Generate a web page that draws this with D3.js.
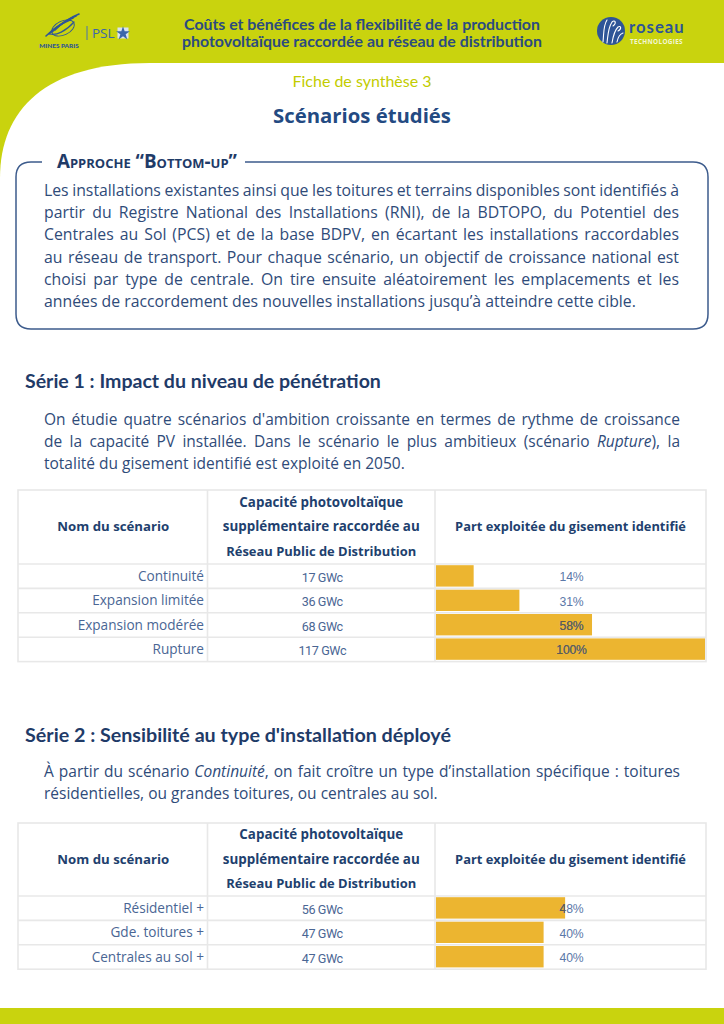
<!DOCTYPE html>
<html><head><meta charset="utf-8">
<script src="https://cdn.jsdelivr.net/npm/d3@7"></script>
<style>
html,body{margin:0;padding:0;background:#fff;}
svg{display:block;}
</style></head><body>
<svg id="c" width="724" height="1024"></svg>
<script>
// ---------- DATA ----------
const headerTitle = ["Coûts et bénéfices de la flexibilité de la production", "photovoltaïque raccordée au réseau de distribution"];
const ficheLabel = "Fiche de synthèse 3";
const pageTitle = "Scénarios étudiés";
const boxLegend = "Approche “Bottom-up”";
const boxLines = [
  "Les installations existantes ainsi que les toitures et terrains disponibles sont identifiés à",
  "partir du Registre National des Installations (RNI), de la BDTOPO, du Potentiel des",
  "Centrales au Sol (PCS) et de la base BDPV, en écartant les installations raccordables",
  "au réseau de transport. Pour chaque scénario, un objectif de croissance national est",
  "choisi par type de centrale. On tire ensuite aléatoirement les emplacements et les",
  "années de raccordement des nouvelles installations jusqu’à atteindre cette cible."
];
const serie1Title = "Série 1 : Impact du niveau de pénétration";
const serie1Lines = [
  "On étudie quatre scénarios d'ambition croissante en termes de rythme de croissance",
  "de la capacité PV installée. Dans le scénario le plus ambitieux (scénario _Rupture_), la",
  "totalité du gisement identifié est exploité en 2050."
];
const serie2Title = "Série 2 : Sensibilité au type d'installation déployé";
const serie2Lines = [
  "À partir du scénario _Continuité_, on fait croître un type d’installation spécifique : toitures",
  "résidentielles, ou grandes toitures, ou centrales au sol."
];
const columnHeaders = [
  ["Nom du scénario"],
  ["Capacité photovoltaïque", "supplémentaire raccordée au", "Réseau Public de Distribution"],
  ["Part exploitée du gisement identifié"]
];
const scenarios1 = ["Continuité", "Expansion limitée", "Expansion modérée", "Rupture"];
const capacity1 = [17, 36, 68, 117];
const share1 = [14, 31, 58, 100];
const scenarios2 = ["Résidentiel +", "Gde. toitures +", "Centrales au sol +"];
const capacity2 = [56, 47, 47];
const share2 = [48, 40, 40];
const shareDomain = [0, 100];
const capacityUnit = "GWc";

// ---------- STYLE ----------
const LIME = "#c9d30e";
const NAVY = "#1f3b68";
const TXT = "#2f4b79";
const ROWTXT = "#4a6694";
const GOLD = "#ecb530";
const GRID = "#e8e8e8";
const BODYF = "'Open Sans', 'Noto Sans', sans-serif";
const HEADF = "Lato, 'Open Sans', sans-serif";

const svg = d3.select("#c");

// background
svg.append("rect").attr("width", 724).attr("height", 1024).attr("fill", LIME);
svg.append("path")
  .attr("d", "M0,178 C0,110 45,63 150,63 L724,63 L724,1008 L0,1008 Z")
  .attr("fill", "#fff");

function fit(sel, target) {
  const fs = parseFloat(sel.attr("font-size"));
  const len = sel.node().getComputedTextLength();
  sel.attr("font-size", (fs * target / len).toFixed(2));
  return sel;
}

// ---------- HEADER ----------
const hdr = svg.append("g");
headerTitle.forEach((t, i) => {
  const s = hdr.append("text").attr("x", 362).attr("y", 23 + i * 17.5)
    .attr("text-anchor", "middle").attr("dominant-baseline", "central")
    .attr("font-family", HEADF).attr("font-weight", 700).attr("font-size", 14.5)
    .attr("fill", "#2b4b80").text(t);
  fit(s, i === 0 ? 356 : 360);
});

// Mines Paris logo
const ml = svg.append("g").attr("fill", "none").attr("stroke", "#2e5597").attr("stroke-width", 1.6).attr("stroke-linecap", "round");
[[0,0],[3,-2],[6,-4],[9,-6]].forEach(([dx,dy]) => {
  ml.append("path").attr("d", `M${46+dx},${36+dy} C${52+dx},${30+dy} ${60+dx},${24+dy} ${70+dx},${20+dy}`);
});
ml.append("path").attr("d", "M50,34 C56,36 66,31 74,22").attr("stroke-width", 1.2);
ml.append("ellipse").attr("cx", 63).attr("cy", 28).attr("rx", 12).attr("ry", 7).attr("transform", "rotate(-25,63,28)").attr("stroke-width", 0.9);
svg.append("text").attr("x", 59).attr("y", 45).attr("text-anchor", "middle").attr("dominant-baseline", "central")
  .attr("font-family", HEADF).attr("font-weight", 900).attr("font-size", 6.4).attr("fill", "#2e5597").text("MINES PARIS");
svg.append("line").attr("x1", 87).attr("x2", 87).attr("y1", 26).attr("y2", 40).attr("stroke", "#4a72ad").attr("stroke-width", 1);
svg.append("text").attr("x", 92).attr("y", 33).attr("dominant-baseline", "central")
  .attr("font-family", "'Open Sans', sans-serif").attr("font-size", 13.5).attr("fill", "#3b67aa").text("PSL");
svg.append("rect").attr("x", 117.5).attr("y", 27.5).attr("width", 11).attr("height", 11).attr("fill", "#d9e4f2");
svg.append("path").attr("d", d3.symbol(d3.symbolStar, 60)()).attr("transform", "translate(123,33.5)").attr("fill", "#3b67aa");

// Roseau logo
svg.append("circle").attr("cx", 611).attr("cy", 31).attr("r", 14).attr("fill", "#2e5597");
const rl = svg.append("g").attr("fill", "none").attr("stroke", "#fff").attr("stroke-width", 1.1).attr("stroke-linecap", "round");
rl.append("path").attr("d", "M603,42 C604,34 603,26 607,20");
rl.append("path").attr("d", "M607,43 C608,35 608,28 612,22 C615,19 617,23 613,26");
rl.append("path").attr("d", "M612,43 C613,37 614,31 618,27 C621,25 622,29 618,31");
rl.append("path").attr("d", "M617,42 C618,37 620,34 623,33");
fit(svg.append("text").attr("x", 629).attr("y", 32.5)
  .attr("font-family", "Lato, sans-serif").attr("font-weight", 700).attr("font-size", 16).attr("letter-spacing", 1)
  .attr("fill", "#2e5597").text("roseau"), 56);
fit(svg.append("text").attr("x", 630).attr("y", 43.5)
  .attr("font-family", "'Open Sans', sans-serif").attr("font-weight", 700).attr("font-size", 5).attr("letter-spacing", 0.3)
  .attr("fill", "#f3f6d6").text("TECHNOLOGIES"), 54);

// ---------- TITLES ----------
fit(svg.append("text").attr("x", 362).attr("y", 80).attr("text-anchor", "middle").attr("dominant-baseline", "central")
  .attr("font-family", HEADF).attr("font-size", 12.5).attr("fill", "#c2cc00").text(ficheLabel), 139);
fit(svg.append("text").attr("x", 362).attr("y", 115).attr("text-anchor", "middle").attr("dominant-baseline", "central")
  .attr("font-family", BODYF).attr("font-weight", 700).attr("font-size", 19).attr("fill", "#234a82").text(pageTitle), 178);

// ---------- PARAGRAPH HELPER ----------
function paragraph(lines, x0, x1, y0, lh, lastWidth, color) {
  const g = svg.append("g").attr("fill", color).attr("font-family", BODYF);
  const probe = g.append("text").attr("font-size", 14).text(lines[lines.length - 1].replace(/_/g, ""));
  const fs = 14 * lastWidth / probe.node().getComputedTextLength();
  probe.remove();
  const sp = g.append("text").attr("font-size", fs).text("a a");
  const sp2 = g.append("text").attr("font-size", fs).text("aa");
  const space = sp.node().getComputedTextLength() - sp2.node().getComputedTextLength();
  sp.remove(); sp2.remove();
  lines.forEach((line, i) => {
    const y = y0 + i * lh;
    const words = line.split(" ");
    let italic = false;
    const nodes = words.map(w => {
      const t = g.append("text").attr("y", y).attr("font-size", fs).attr("dominant-baseline", "central");
      const parts = w.split("_");
      parts.forEach((p, k) => {
        if (k > 0) italic = !italic;
        if (p.length) t.append("tspan").attr("font-style", italic ? "italic" : "normal").text(p);
      });
      return t;
    });
    const widths = nodes.map(n => n.node().getComputedTextLength());
    const total = d3.sum(widths);
    const last = i === lines.length - 1;
    const gap = last ? space : (x1 - x0 - total) / (nodes.length - 1);
    let x = x0;
    nodes.forEach((n, k) => { n.attr("x", x); x += widths[k] + gap; });
  });
}

// ---------- BOX ----------
svg.append("path")
  .attr("d", "M42,162 L31,162 Q16,162 16,177 L16,314 Q16,329 31,329 L693,329 Q708,329 708,314 L708,177 Q708,162 693,162 L245,162")
  .attr("fill", "none").attr("stroke", "#3c5b8c").attr("stroke-width", 1.5);
fit(svg.append("text").attr("x", 57).attr("y", 160.5).attr("dominant-baseline", "central")
  .attr("font-family", BODYF).attr("font-weight", 700).attr("font-size", 14)
  .style("font-variant", "small-caps").attr("fill", NAVY).text(boxLegend), 184);
paragraph(boxLines, 44, 679, 190, 22.2, 592, TXT);

// ---------- SERIES ----------
fit(svg.append("text").attr("x", 25).attr("y", 380).attr("dominant-baseline", "central")
  .attr("font-family", HEADF).attr("font-weight", 700).attr("font-size", 17).attr("fill", NAVY).text(serie1Title), 356);
paragraph(serie1Lines, 44, 680, 418.5, 22.3, 361, TXT);

fit(svg.append("text").attr("x", 25).attr("y", 734).attr("dominant-baseline", "central")
  .attr("font-family", HEADF).attr("font-weight", 700).attr("font-size", 17).attr("fill", NAVY).text(serie2Title), 426);
paragraph(serie2Lines, 44, 680, 771, 22.3, 394, TXT);

// ---------- TABLES ----------
const colX = [18, 207.5, 435, 706];
const xShare = d3.scaleLinear().domain(shareDomain).range([436, 705]);
let clipId = 0;

function table(top, headBottom, names, caps, shares) {
  const g = svg.append("g");
  const rowH = 24.4;
  const y = d3.scaleBand().domain(names).range([headBottom, headBottom + rowH * names.length]);
  const bottom = headBottom + rowH * names.length;
  const hc = [(colX[0] + colX[1]) / 2 + 0.5, (colX[1] + colX[2]) / 2, (colX[2] + colX[3]) / 2];
  const hw = [[112], [164, 197, 190], [231]];
  const hy = (top + headBottom) / 2;
  columnHeaders.forEach((lines, c) => {
    lines.forEach((t, k) => {
      const yy = hy + (k - (lines.length - 1) / 2) * 24.5 - 1;
      fit(g.append("text").attr("x", hc[c]).attr("y", yy).attr("text-anchor", "middle").attr("dominant-baseline", "central")
        .attr("font-family", BODYF).attr("font-weight", 700).attr("font-size", 12.5).attr("fill", "#213f6e").text(t), hw[c][k]);
    });
  });
  // bars
  g.selectAll("rect.bar").data(names).join("rect").attr("class", "bar")
    .attr("x", xShare(0)).attr("y", d => y(d) + 1.2)
    .attr("width", (d, i) => xShare(shares[i]) - xShare(0))
    .attr("height", y.bandwidth() - 3)
    .attr("fill", GOLD);
  // grid
  const gr = g.append("g").attr("stroke", GRID).attr("stroke-width", 1.6).attr("fill", "none");
  gr.append("rect").attr("x", colX[0]).attr("y", top).attr("width", colX[3] - colX[0]).attr("height", bottom - top);
  [colX[1], colX[2]].forEach(x => gr.append("line").attr("x1", x).attr("x2", x).attr("y1", top).attr("y2", bottom));
  names.forEach(n => gr.append("line").attr("x1", colX[0]).attr("x2", colX[3]).attr("y1", y(n)).attr("y2", y(n)));
  // labels
  g.selectAll("text.name").data(names).join("text").attr("class", "name")
    .attr("x", 204).attr("y", d => y(d) + y.bandwidth() / 2 - 1).attr("text-anchor", "end").attr("dominant-baseline", "central")
    .attr("font-family", BODYF).attr("font-size", 13.6).attr("fill", ROWTXT).text(d => d);
  g.selectAll("text.cap").data(caps).join("text").attr("class", "cap")
    .attr("x", hc[1] + 1).attr("y", (d, i) => y(names[i]) + y.bandwidth() / 2 + 1).attr("text-anchor", "middle").attr("dominant-baseline", "central")
    .attr("font-family", "Roboto, sans-serif").attr("font-size", 12.6).attr("letter-spacing", -0.4).attr("fill", ROWTXT)
    .text(d => d + " " + capacityUnit);
  shares.forEach((v, i) => {
    const yy = y(names[i]) + y.bandwidth() / 2 + 1;
    const lbl = v + "%";
    g.append("text").attr("x", hc[2] + 1).attr("y", yy).attr("text-anchor", "middle").attr("dominant-baseline", "central")
      .attr("font-family", "'Liberation Sans', Arial, sans-serif").attr("font-size", 12.2).attr("letter-spacing", -0.2).attr("fill", "#5b78a8").text(lbl);
    const id = "clip" + (clipId++);
    g.append("clipPath").attr("id", id).append("rect")
      .attr("x", xShare(0)).attr("y", y(names[i])).attr("width", xShare(v) - xShare(0)).attr("height", y.bandwidth());
    g.append("text").attr("clip-path", `url(#${id})`).attr("x", hc[2] + 1).attr("y", yy).attr("text-anchor", "middle").attr("dominant-baseline", "central")
      .attr("font-family", "'Liberation Sans', Arial, sans-serif").attr("font-size", 12.2).attr("letter-spacing", -0.2).attr("fill", "#5f5b50").text(lbl);
  });
}

table(490, 564, scenarios1, capacity1, share1);
table(823, 896, scenarios2, capacity2, share2);
</script>
</body></html>
